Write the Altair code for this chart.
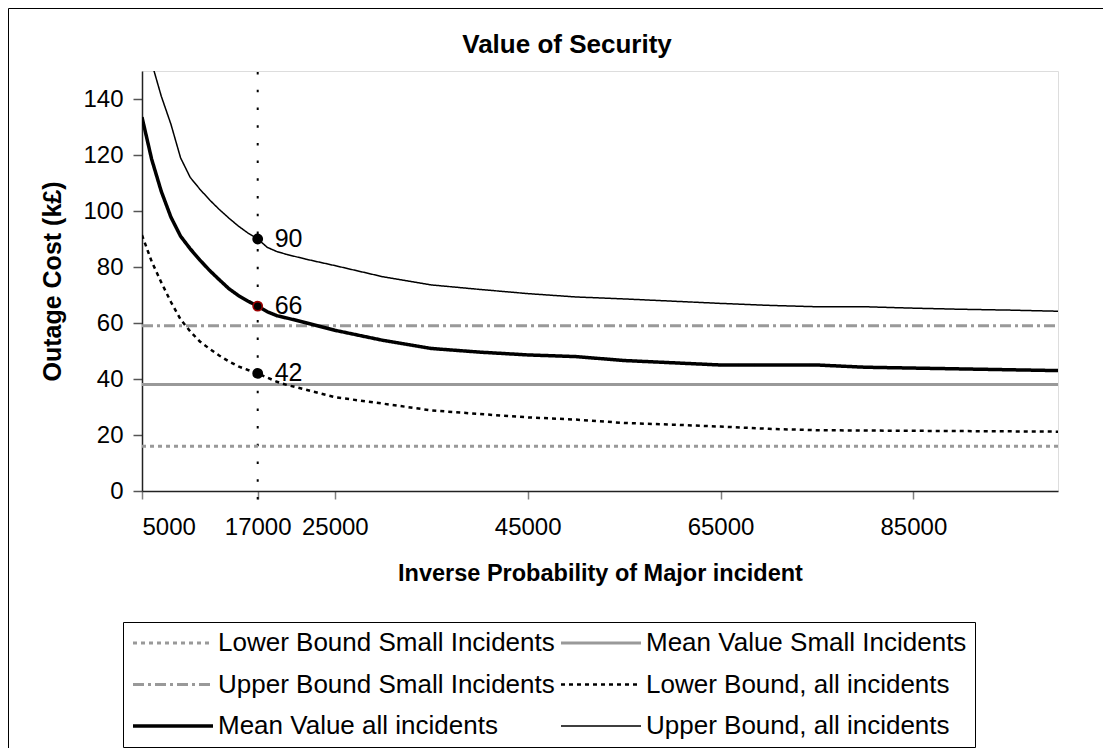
import altair as alt
import pandas as pd

# ---------------- data ----------------
x_inv = [5000, 6000, 7000, 8000, 9000, 10000, 11000, 12000, 13000, 14000, 15000,
         16000, 17000, 18000, 19000, 20000, 22000, 25000, 30000, 35000, 40000,
         45000, 50000, 55000, 60000, 65000, 70000, 75000, 80000, 85000, 90000,
         95000, 100000]
upper_all = [172, 153, 141, 131, 119, 112, 107.8, 104, 100.6, 97.5, 94.6,
             92.1, 90, 87, 85.5, 84.5, 82.8, 80.5, 76.5, 73.6, 72,
             70.5, 69.3, 68.6, 67.8, 67, 66.3, 65.8, 65.8, 65.3, 64.9,
             64.6, 64.2]
mean_all = [133.5, 118.5, 107, 97.8, 91, 86.5, 82.5, 78.8, 75.5, 72.3, 69.8,
            67.8, 66, 64, 62.6, 61.8, 60.1, 57.4, 53.8, 50.9, 49.6,
            48.6, 48, 46.6, 45.8, 45, 45, 45, 44.2, 43.9, 43.6,
            43.3, 43]
lower_all = [91.4, 82, 74.5, 67.5, 61.3, 57, 53.4, 50.8, 48.4, 46.3, 44.5,
             43.2, 42, 40.5, 39, 37.9, 36.2, 33.5, 31.2, 28.8, 27.5,
             26.3, 25.5, 24.3, 23.7, 23, 22.2, 21.7, 21.6, 21.5, 21.4,
             21.3, 21.2]
small_x = [5000, 100000]
lower_small = [16, 16]
mean_small = [38, 38]
upper_small = [59, 59]

marker_x = [17000, 17000, 17000]
marker_y = [90, 66, 42]
marker_label = ["90", "66", "42"]
ref_x = [17000]

series_names = ["Lower Bound Small Incidents", "Mean Value Small Incidents",
                "Upper Bound Small Incidents", "Lower Bound, all incidents",
                "Mean Value all incidents", "Upper Bound, all incidents"]
x_tick_values = [5000, 17000, 25000, 45000, 65000, 85000]
y_tick_values = [0, 20, 40, 60, 80, 100, 120, 140]

# ---------------- tables ----------------
rows = []
for name, xs, ys in [(series_names[0], small_x, lower_small),
                     (series_names[1], small_x, mean_small),
                     (series_names[2], small_x, upper_small),
                     (series_names[3], x_inv, lower_all),
                     (series_names[4], x_inv, mean_all),
                     (series_names[5], x_inv, upper_all)]:
    for a, b in zip(xs, ys):
        rows.append({"x": a, "y": b, "series": name})
df = pd.DataFrame(rows)
df_mark = pd.DataFrame({"x": marker_x, "y": marker_y, "label": marker_label})
df_ref = pd.DataFrame({"x": ref_x})
df_frame = pd.DataFrame({"a": [0]})

FONT = "Liberation Sans"
GRAY = "#999999"
colors = [GRAY, GRAY, GRAY, "#000000", "#000000", "#000000"]
dashes = [[4, 4], [1, 0], [11, 4, 3, 4], [4, 4], [1, 0], [1, 0]]


def width_expr(ref):
    return (f"{ref} === 'Mean Value all incidents' ? 3.5 : "
            f"({ref} === 'Upper Bound, all incidents' ? 1.5 : "
            f"({ref} === 'Lower Bound, all incidents' ? 2.5 : 3))")


x_scale = alt.Scale(domain=[5000, 100000], nice=False, zero=False)
y_scale = alt.Scale(domain=[0, 150], nice=False)

x_axis = alt.Axis(values=x_tick_values, format="d", labelFont=FONT, labelFontSize=24,
                  labelColor="black", tickSize=8, tickColor="#808080", tickWidth=1.5,
                  domainColor="#222222", domainWidth=1.5, labelPadding=16, grid=False,
                  labelOverlap=False, title="Inverse Probability of Major incident",
                  titleFont=FONT, titleFontSize=23.5, titleFontWeight="bold",
                  titleColor="black", titleY=82, titleBaseline="middle")
y_axis = alt.Axis(values=y_tick_values, labelFont=FONT, labelFontSize=24,
                  labelColor="black", tickSize=9, tickColor="#555555", tickWidth=1.5,
                  domainColor="#222222", domainWidth=1.5, labelPadding=10, grid=False,
                  title="Outage Cost (k£)", titleFont=FONT, titleFontSize=25,
                  titleFontWeight="bold", titleColor="black", titleX=-90, titleY=210,
                  titleBaseline="middle", titleAngle=-90)

legend = alt.Legend(title=None, orient="none", legendX=-19, legendY=551, columns=2,
                    direction="horizontal",
                    symbolType="stroke", symbolSize=6400, symbolOffset=29,
                    labelFont=FONT, labelFontSize=26, labelColor="black",
                    labelLimit=700, labelOffset=32,
                    rowPadding=15.5, columnPadding=0, padding=8, strokeColor="black",
                    fillColor="white",
                    symbolStrokeWidth=alt.ExprRef(expr=width_expr("datum.label")))

frame = alt.Chart(df_frame).mark_rect(fill=None, stroke="black", strokeWidth=1,
                                      clip=False).encode(
    x=alt.value(-133.5), x2=alt.value(2000), y=alt.value(-62.5), y2=alt.value(2000))

lines = alt.Chart(df).transform_calculate(sw=width_expr("datum.series")).mark_line(
    clip=True, strokeCap="butt").encode(
    x=alt.X("x:Q", scale=x_scale, axis=x_axis),
    y=alt.Y("y:Q", scale=y_scale, axis=y_axis),
    color=alt.Color("series:N", scale=alt.Scale(domain=series_names, range=colors),
                    legend=legend, sort=series_names),
    strokeDash=alt.StrokeDash("series:N", scale=alt.Scale(domain=series_names, range=dashes),
                              legend=legend, sort=series_names),
    strokeWidth=alt.StrokeWidth("sw:Q", scale=None, legend=None),
)

vline = alt.Chart(df_ref).mark_rule(color="black", strokeWidth=2, strokeDash=[2.5, 15.2],
                                    clip=False).encode(
    x=alt.X("x:Q", scale=x_scale),
    y=alt.datum(-3), y2=alt.datum(150))

points = alt.Chart(df_mark).mark_point(filled=True, shape="circle", size=85, opacity=1,
                                       fill="black", strokeWidth=1.6).encode(
    x=alt.X("x:Q", scale=x_scale),
    y=alt.Y("y:Q", scale=y_scale),
    stroke=alt.condition("datum.label === '66'", alt.value("#9b0000"), alt.value("black")))

labels = alt.Chart(df_mark).mark_text(align="left", baseline="middle", dx=17, dy=0,
                                      font=FONT, fontSize=25, color="black").encode(
    x=alt.X("x:Q", scale=x_scale),
    y=alt.Y("y:Q", scale=y_scale),
    text="label:N")

chart = alt.layer(frame, vline, lines, points, labels).properties(
    width=916, height=420,
    padding={"left": 134, "top": 63, "right": 45, "bottom": 257},
    autosize=alt.AutoSizeParams(type="none"),
    title=alt.Title("Value of Security", font=FONT, fontSize=26, fontWeight="bold",
                    color="black", anchor="middle", frame="group", dx=-33,
                    baseline="alphabetic", offset=-71),
).configure_view(stroke="#808080", strokeWidth=2).configure(background="white")

chart.save("out.html", embed_options={"renderer": "svg", "actions": False})
